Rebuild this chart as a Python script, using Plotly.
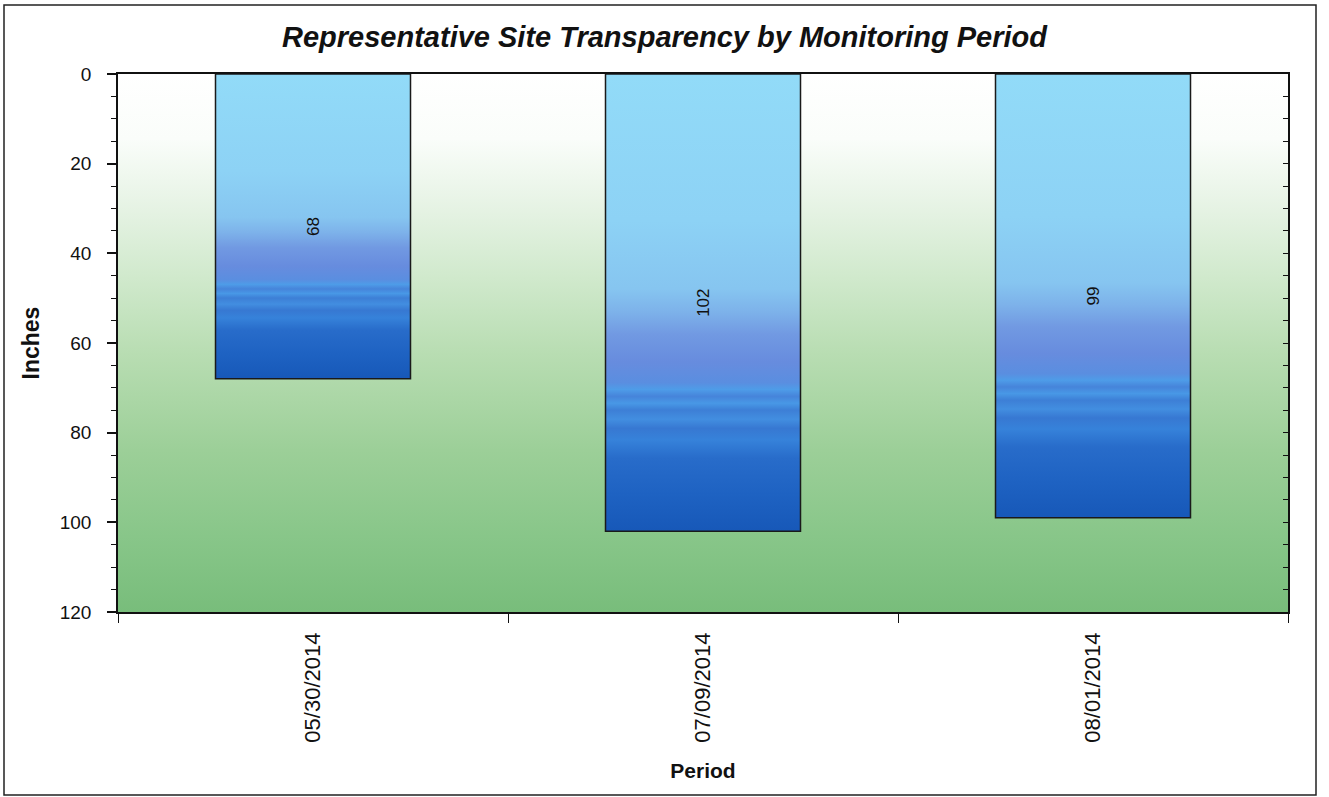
import base64
import plotly.graph_objects as go

# ---- data ----
periods = ["05/30/2014", "07/09/2014", "08/01/2014"]
transparency_in = [68, 102, 99]
title_text = "Representative Site Transparency by Monitoring Period"
y_title = "Inches"
x_title = "Period"

# ---- styling helpers ----
def svg_gradient(stops):
    stops_xml = "".join(f'<stop offset="{o}" stop-color="{c}"/>' for o, c in stops)
    svg = ('<svg xmlns="http://www.w3.org/2000/svg" width="100" height="100" '
           'preserveAspectRatio="none"><defs><linearGradient id="g" x1="0" y1="0" x2="0" y2="1">'
           f'{stops_xml}</linearGradient></defs><rect width="100" height="100" fill="url(#g)"/></svg>')
    return "data:image/svg+xml;base64," + base64.b64encode(svg.encode()).decode()

bg_src = svg_gradient([
    (0.0, "#ffffff"), (0.12, "#fafdfa"), (0.26, "#e4f2e2"), (0.38, "#d0e9cc"),
    (0.52, "#b8ddb2"), (0.70, "#9ccf98"), (0.86, "#88c689"), (1.0, "#78bd7b"),
])
bar_src = svg_gradient([
    (0.0, "#92dbf8"), (0.32, "#8dd2f5"), (0.47, "#86c5f0"), (0.52, "#7db2ea"),
    (0.57, "#7199e2"), (0.63, "#678cde"), (0.675, "#5a8ee0"), (0.69, "#4e9ce8"),
    (0.705, "#4684da"), (0.72, "#4898e6"), (0.735, "#3d7fd6"), (0.755, "#428ee0"),
    (0.775, "#3778d2"), (0.80, "#3682da"), (0.84, "#286cca"), (0.92, "#1e62c2"),
    (1.0, "#1758b8"),
])

BAR_W = 0.5
L, R, T, B = 118, 41, 74, 185
W, H = 1329, 797

fig = go.Figure()
fig.add_trace(go.Bar(
    x=periods, y=transparency_in, width=BAR_W,
    marker=dict(color="rgba(0,0,0,0)", line=dict(color="#1a1a1a", width=1.5)),
    text=[str(v) for v in transparency_in], textposition="inside",
    insidetextanchor="middle", textangle=-90,
    insidetextfont=dict(family="Liberation Sans, Arial", size=17, color="#111"),
    hoverinfo="x+y", showlegend=False,
))
# empty trace so the mirrored right-hand axis (inside ticks) is drawn
fig.add_trace(go.Scatter(x=[], y=[], yaxis="y2", showlegend=False, hoverinfo="skip"))

images = [dict(source=bg_src, xref="paper", yref="paper", x=0, y=1, sizex=1, sizey=1,
               xanchor="left", yanchor="top", sizing="stretch", layer="below")]
for i, v in enumerate(transparency_in):
    images.append(dict(source=bar_src, xref="x", yref="y", x=i - BAR_W / 2, y=0,
                       sizex=BAR_W, sizey=v, xanchor="left", yanchor="top",
                       sizing="stretch", layer="below"))

pw, ph = W - L - R, H - T - B
def px(xp): return (xp - L) / pw
def py(yp): return (H - B - yp) / ph

fig.update_layout(
    width=W, height=H,
    margin=dict(l=L, r=R, t=T, b=B, autoexpand=False),
    paper_bgcolor="white", plot_bgcolor="rgba(0,0,0,0)",
    images=images,
    font=dict(family="Liberation Sans, Arial", color="#111"),
    title=dict(text=f"<b><i>{title_text}</i></b>", x=0.5, xref="container",
               y=1 - 37 / H, yref="container", xanchor="center", yanchor="middle",
               font=dict(size=29, family="Liberation Sans, Arial", color="#111")),
    xaxis=dict(type="category", tickson="boundaries", ticks="outside", ticklen=9,
               tickwidth=1.2, tickcolor="#111", tickangle=-90,
               tickfont=dict(size=22), showline=True, linecolor="#111", linewidth=1.5,
               mirror=True, showgrid=False, ticklabelstandoff=10,
               title=dict(text=f"<b>{x_title}</b>", font=dict(size=21), standoff=22)),
    yaxis=dict(range=[120, 0], dtick=20, tick0=0, ticks="outside", ticklen=9,
               tickwidth=1.5, tickcolor="#111", tickfont=dict(size=19),
               minor=dict(dtick=5, ticks="outside", ticklen=5, tickcolor="#111", tickwidth=1.2),
               showline=True, linecolor="#111", linewidth=1.5, mirror=True,
               showgrid=False, zeroline=False, ticklabelstandoff=12,
               title=dict(text=f"<b>{y_title}</b>", font=dict(size=23), standoff=14)),
    yaxis2=dict(range=[120, 0], overlaying="y", side="right", dtick=20, ticks="inside",
                ticklen=5, tickcolor="#111", showticklabels=False, showline=False,
                showgrid=False, zeroline=False,
                minor=dict(dtick=5, ticks="inside", ticklen=5, tickcolor="#111")),
    bargap=0.5,
    shapes=[dict(type="rect", xref="paper", yref="paper", x0=px(4), x1=px(1316),
                 y0=py(795), y1=py(5), line=dict(color="#222", width=1.5),
                 fillcolor="rgba(0,0,0,0)", layer="above")],
)

fig.write_html("out.html", config={"displayModeBar": False},
               post_script="document.body.style.margin='0';document.body.style.overflow='hidden';")
